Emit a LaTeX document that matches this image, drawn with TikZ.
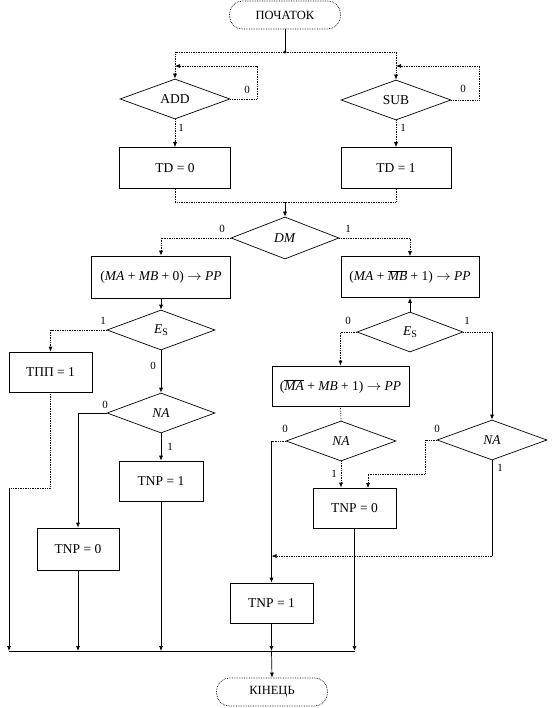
\documentclass[tikz,border=0pt]{standalone}
\usepackage{fontspec}
\setmainfont{Liberation Serif}
\usetikzlibrary{shapes.geometric,arrows.meta}
\newcommand{\EsLbl}{\textit{E}\raisebox{-0.4ex}{\fontsize{10}{11}\selectfont S}}
\newcommand{\ToArr}{$\rightarrow$}
\begin{document}
\begin{tikzpicture}[x=1pt,y=-1pt, line width=0.7pt,
  every node/.style={inner sep=0pt},
  txt/.style={font=\fontsize{13.5}{15}\selectfont},
  proc/.style={draw, rectangle, txt},
  dec/.style={draw, diamond, txt, minimum width=110pt, minimum height=40pt},
  term/.style={draw, densely dotted, rounded corners=13pt, minimum width=111pt, minimum height=28pt, font=\fontsize{12.5}{14}\selectfont},
  arr/.style={-{Latex[length=5pt,width=4pt]}},
  dotln/.style={densely dotted},
  lab/.style={font=\fontsize{11}{12}\selectfont}]
\useasboundingbox (0,0) rectangle (551,708);

% nodes
\node[term] (start) at (285,15) {ПОЧАТОК};
\node[dec] (add) at (175,99) {ADD};
\node[dec] (sub) at (396,100) {SUB};
\node[proc, minimum width=111pt, minimum height=41pt] (td0) at (175,168) {TD = 0};
\node[proc, minimum width=110pt, minimum height=41pt] (td1) at (396,168) {TD = 1};
\node[dec, minimum width=108pt, minimum height=42pt] (dm) at (285,238) {\textit{DM}};
\node[proc, minimum width=139pt, minimum height=42pt] (b0) at (161,277) {(\textit{MA} + \textit{MB} + 0) \ToArr{} \textit{PP}};
\node[proc, minimum width=138pt, minimum height=41pt] (b1) at (410,277) {(\textit{MA} + $\overline{\mbox{\textit{MB}}}$ + 1) \ToArr{} \textit{PP}};
\node[dec, minimum width=108pt] (esl) at (161,330) {\EsLbl};
\node[dec, minimum width=106pt] (esr) at (410,332) {\EsLbl};
\node[proc, minimum width=83pt, minimum height=40pt] (tpp) at (50.5,372) {ТПП = 1};
\node[dec, minimum width=108pt] (nal) at (161,413) {\textit{NA}};
\node[proc, minimum width=137pt, minimum height=40pt] (b2) at (340.5,386) {($\overline{\mbox{\textit{MA}}}$ + \textit{MB} + 1) \ToArr{} \textit{PP}};
\node[dec] (nam) at (341,441) {\textit{NA}};
\node[dec] (nar) at (492,440) {\textit{NA}};
\node[proc, minimum width=84pt, minimum height=40pt] (tnp1l) at (161,481) {TNP = 1};
\node[proc, minimum width=82pt, minimum height=42pt] (tnp0l) at (78,549) {TNP = 0};
\node[proc, minimum width=83pt, minimum height=40pt] (tnp0m) at (354.5,508) {TNP = 0};
\node[proc, minimum width=83pt, minimum height=40pt] (tnp1b) at (271.5,603) {TNP = 1};
\node[term] (end) at (272,692) {КІНЕЦЬ};

% top part
\coordinate (split) at (285,52);
\draw (start.south) -- (split);
\fill (split) circle (1.7pt);
\draw[arr,dotln] (split) -| (add.north);
\draw[arr,dotln] (split) -| (sub.north);
\coordinate (al) at (257,66);
\draw[arr,dotln] (add.east) -| (al) -- (add.north |- al);
\coordinate (sl) at (479,66);
\draw[arr,dotln] (sub.east) -| (sl) -- (sub.north |- sl);
\node[lab] at (247,90) {0};
\node[lab] at (463,89) {0};
\node[lab] at (181,128) {1};
\node[lab] at (403,128) {1};
\draw[arr,dotln] (add.south) -- (td0.north);
\draw[arr,dotln] (sub.south) -- (td1.north);
\coordinate (join) at (285,202);
\draw[dotln] (td0.south) |- (join) -| (td1.south);
\draw[arr] (join) -- (dm.north);
\draw[arr,dotln] (dm.west) -| (b0.north);
\draw[arr,dotln] (dm.east) -| (b1.north);
\node[lab] at (222,229) {0};
\node[lab] at (348,229) {1};

% left branch
\draw[arr] (b0.south) -- (esl.north);
\draw[arr,dotln] (esl.west) -| (tpp.north);
\node[lab] at (103,321) {1};
\draw[arr] (esl.south) -- (nal.north);
\node[lab] at (153,366) {0};
\draw[arr] (nal.west) -| (tnp0l.north);
\node[lab] at (105,405) {0};
\draw[arr] (nal.south) -- (tnp1l.north);
\node[lab] at (170,447) {1};

% bus
\coordinate (busL) at (9,651);
\coordinate (tb) at (9,488);
\draw[dotln] (tpp.south) |- (tb);
\draw[arr] (tb) -- (busL);
\coordinate (busM) at (tnp1b.south |- busL);
\coordinate (busR) at (tnp0m.south |- busL);
\draw (busL) -- (busR);
\draw[arr] (tnp0l.south) -- (tnp0l.south |- busL);
\draw[arr] (tnp1l.south) -- (tnp1l.south |- busL);
\draw[arr] (tnp1b.south) -- (busM);
\draw[arr] (tnp0m.south) -- (busR);
\draw[arr] (busM) -- (end.north);

% right branch
\draw[arr] (esr.north) -- (b1.south);
\draw[arr,dotln] (esr.west) -| (b2.north);
\node[lab] at (348,321) {0};
\draw[dotln] (esr.east) -- (esr.east -| nar.north);
\draw[arr] (esr.east -| nar.north) -- (nar.north);
\node[lab] at (467,321) {1};
\draw[dotln] (b2.south) -- (nam.north);
\draw[dotln] (nam.west) -- (nam.west -| tnp1b.north);
\draw[arr] (nam.west -| tnp1b.north) -- (tnp1b.north);
\node[lab] at (285,429) {0};
\draw[arr,dotln] (nam.south) -- (nam.south |- tnp0m.north);
\node[lab] at (334,474) {1};
\coordinate (r1) at (425,474);
\coordinate (tin) at (368,488);
\draw[arr,dotln] (nar.west) -| (r1) -| (tin);
\node[lab] at (437,429) {0};
\coordinate (r3) at (492,556);
\draw (nar.south) -- (r3);
\draw[arr,dotln] (r3) -- (tnp1b.north |- r3);
\node[lab] at (500,468) {1};
\end{tikzpicture}
\end{document}
